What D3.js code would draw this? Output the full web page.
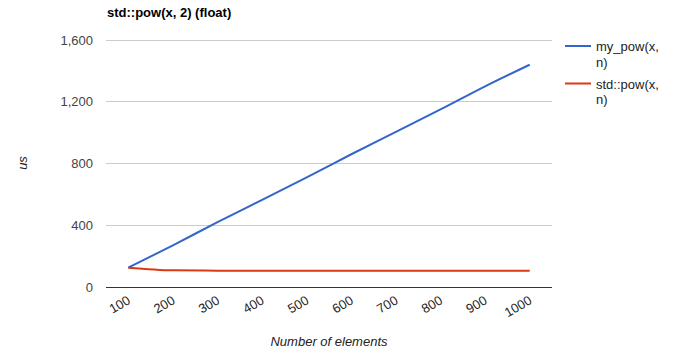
<!DOCTYPE html>
<html><head><meta charset="utf-8">
<script src="https://cdn.jsdelivr.net/npm/d3@7/dist/d3.min.js"></script>
<style>body{margin:0;background:#fff}svg{display:block;font-family:"Liberation Sans",Arial,sans-serif}</style>
</head><body><svg id="c" width="681" height="360"></svg>
<script>
const categories = ["100","200","300","400","500","600","700","800","900","1000"];
const myPow = [125, 270, 420, 565, 710, 860, 1005, 1150, 1300, 1440];
const stdPow = [125, 108, 106, 106, 106, 106, 106, 106, 106, 106];
const yTicks = [0, 400, 800, 1200, 1600];
const seriesNames = [["my_pow(x,","n)"],["std::pow(x,","n)"]];
const colors = ["#3366cc","#dc3912"];

const svg = d3.select("#c");
const L = 106, R = 552, T = 40, B = 287;
const x = d3.scalePoint().domain(categories).range([L, R]).padding(0.5);
const y = d3.scaleLinear().domain([0, 1600]).range([B, T]);

// gridlines
svg.append("g").selectAll("line").data(yTicks.filter(d=>d>0)).join("line")
  .attr("x1", L).attr("x2", R).attr("y1", d=>y(d)).attr("y2", d=>y(d))
  .attr("stroke", "#cccccc").attr("stroke-width", 1).attr("shape-rendering","crispEdges");

// y tick labels
svg.append("g").selectAll("text").data(yTicks).join("text")
  .attr("x", 93).attr("y", d=>y(d)+4.5).attr("text-anchor","end")
  .attr("font-size", 13).attr("fill", "#444").text(d=>d3.format(",")(d));

// x tick labels
svg.append("g").selectAll("text").data(categories).join("text")
  .attr("transform", d=>`translate(${x(d)+3},${303}) rotate(-30)`)
  .attr("text-anchor","end").attr("font-size", 13).attr("fill","#222").text(d=>d);

const line = d3.line().x((d,i)=>x(categories[i])).y(d=>y(d)).curve(d3.curveMonotoneX);
[myPow, stdPow].forEach((s,i)=>{
  svg.append("path").attr("d", line(s)).attr("fill","none")
    .attr("stroke", colors[i]).attr("stroke-width", 2);
});

// zero axis line
svg.append("line").attr("x1", L).attr("x2", R).attr("y1", y(0)).attr("y2", y(0))
  .attr("stroke", "#333").attr("stroke-width", 1).attr("shape-rendering","crispEdges");

// title
svg.append("text").attr("x", 107).attr("y", 17).attr("font-size", 13)
  .attr("font-weight","bold").attr("fill","#000").text("std::pow(x, 2) (float)");

// axis titles
svg.append("text").attr("transform","translate(27,163) rotate(-90)").attr("text-anchor","middle")
  .attr("font-size", 13).attr("font-style","italic").attr("fill","#222").text("us");
svg.append("text").attr("x", 329).attr("y", 346).attr("text-anchor","middle")
  .attr("font-size", 13).attr("font-style","italic").attr("fill","#222").text("Number of elements");

// legend
seriesNames.forEach((nm,i)=>{
  const ly = 46 + i*37.5;
  svg.append("line").attr("x1",565).attr("x2",591).attr("y1",ly).attr("y2",ly)
    .attr("stroke", colors[i]).attr("stroke-width", 2);
  nm.forEach((t,j)=>{
    svg.append("text").attr("x",596).attr("y", ly+5+j*15.5).attr("font-size",13)
      .attr("fill","#222").text(t);
  });
});
</script></body></html>
